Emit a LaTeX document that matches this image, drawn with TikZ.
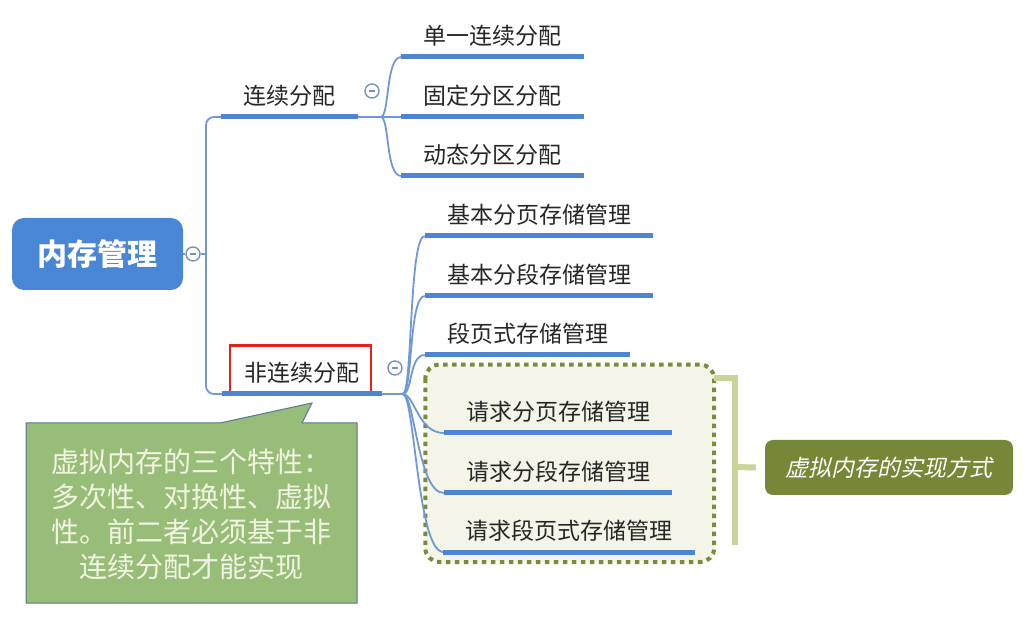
\documentclass[tikz,border=0pt]{standalone}
\usepackage{fontspec}
\setmainfont{Noto Sans CJK SC}
\newfontfamily\cjkslant[FakeSlant=0.22]{Noto Sans CJK SC}
\usepackage{xcolor}
\usetikzlibrary{positioning, fit, backgrounds, calc}

\definecolor{rootblue}{RGB}{74,134,214}
\definecolor{lineblue}{RGB}{78,133,210}
\definecolor{twigblue}{RGB}{110,153,214}
\definecolor{foldblue}{RGB}{120,145,192}
\definecolor{olive}{RGB}{118,136,55}
\definecolor{dotolive}{RGB}{122,140,58}
\definecolor{paleolive}{RGB}{202,211,152}
\definecolor{boxcream}{RGB}{244,245,232}
\definecolor{notegreen}{RGB}{152,189,120}
\definecolor{noteedge}{RGB}{88,118,155}
\definecolor{notetext}{RGB}{242,244,226}
\definecolor{markred}{RGB}{232,32,28}

\begin{document}
\begin{tikzpicture}[
    x=1pt, y=-1pt,
    rootbox/.style={
      rectangle, rounded corners=12pt, fill=rootblue,
      minimum width=171pt, minimum height=72pt, text=white,
      font=\fontsize{30}{30}\selectfont\bfseries
    },
    topic/.style={
      anchor=south, text height=17pt, text depth=0pt,
      inner xsep=22pt, inner ysep=12pt, text=black!85,
      font=\fontsize{23}{23}\selectfont
    },
    twig/.style={draw=twigblue, line width=1.8pt},
    uline/.style={draw=lineblue, line width=5pt},
    fold/.style={
      circle, draw=foldblue, line width=1.4pt, fill=white,
      minimum size=14pt, inner sep=0pt,
      path picture={\draw[foldblue, line width=1.4pt]
        ([xshift=-3pt]path picture bounding box.center) --
        ([xshift=3pt]path picture bounding box.center);}
    },
    redbox/.style={draw=markred, line width=2.5pt},
    dotbox/.style={draw=dotolive, fill=boxcream, line width=4pt,
      dash pattern=on 4.5pt off 4.5pt, rounded corners=14pt},
    brace/.style={draw=paleolive, line width=6pt},
    vmbox/.style={
      rectangle, rounded corners=8pt, fill=olive, text=white,
      minimum width=248pt, minimum height=55pt,
      font=\fontsize{23}{23}\cjkslant
    },
    note/.style={fill=notegreen, draw=noteedge, line width=1pt},
    notetext/.style={align=center, text=notetext,
      font=\fontsize{28}{35}\selectfont}
  ]
  \useasboundingbox (0,0) rectangle (1026,617);

  % Root and its fold
  \node[rootbox] (root) at (97.5,254) {内存管理};
  \node[fold] (f0) at (193,254) {};
  \coordinate (t) at (206,254);
  \draw[twig] (root.east) -- (f0.west);
  \draw[twig] (f0.east) -- (t);

  % Continuous allocation
  \node[topic] (lx) at (289.5,117) {连续分配};
  \node[topic] (c1) at (492.5,57)  {单一连续分配};
  \node[topic] (c2) at (492.5,117) {固定分区分配};
  \node[topic] (c3) at (492.5,176) {动态分区分配};
  \node[fold] (f1) at (372,91) {};

  % Non-continuous allocation
  \node[topic] (nlx) at (302,394) {非连续分配};
  \node[topic] (d1) at (539,236)   {基本分页存储管理};
  \node[topic] (d2) at (539,296)   {基本分段存储管理};
  \node[topic] (d3) at (527.5,355) {段页式存储管理};
  \node[topic] (e1) at (558,433)   {请求分页存储管理};
  \node[topic] (e2) at (558,493)   {请求分段存储管理};
  \node[topic] (e3) at (569,552)   {请求段页式存储管理};
  \node[fold] (f2) at (395,368) {};
  \draw[redbox] ([xshift=7.5pt,yshift=2pt]nlx.south west)
    rectangle ([xshift=-10.5pt,yshift=7pt]nlx.north east);

  % Virtual memory group
  \begin{scope}[on background layer]
    \draw[dotbox] ([shift={(-18.5pt,27pt)}]e1.north west)
      rectangle ([shift={(19.5pt,-10pt)}]e3.south east);
  \end{scope}
  \node[vmbox] (vm) at (889,467.5) {虚拟内存的实现方式};
  \coordinate (br) at (735,467);
  \draw[brace] (714,378) -| (735,545);
  \draw[brace] (br) -- ([xshift=-9pt]vm.west);

  % Trunk
  \draw[twig, rounded corners=8pt] (lx.south west) -| (t) |- (nlx.south west);

  % Fans
  \coordinate (fa) at ([xshift=23pt]lx.south east);
  \coordinate (fb) at ([xshift=21pt]nlx.south east);
  \draw[twig] (lx.south east) -- (c2.south west);
  \foreach \n in {c1,c3}
    \draw[twig] (fa) .. controls +(9,0) and +(-16,0) .. (\n.south west);
  \draw[twig] (nlx.south east) -- (fb);
  \foreach \n in {d1,d2,d3}
    \draw[twig] (fb) .. controls +(10,0) and +(-16,0) .. (\n.south west);
  \foreach \n in {e1,e2,e3}
    \draw[twig] (fb) .. controls +(12,0) and +(-26,0) .. (\n.south west);

  % Underlines
  \foreach \n in {lx,c1,c2,c3,nlx,d1,d2,d3,e1,e2,e3}
    \draw[uline] (\n.south west) -- (\n.south east);

  % Callout
  \draw[note] (26,423) -- (220,423) -- (312,403) -- (302,423)
    -- (357,423) -- (357,603) -- (26,603) -- cycle;
  \node[notetext] (nt) at (191.5,514)
    {虚拟内存的三个特性：\\多次性、对换性、虚拟\\性。前二者必须基于非\\连续分配才能实现};

\end{tikzpicture}
\end{document}
